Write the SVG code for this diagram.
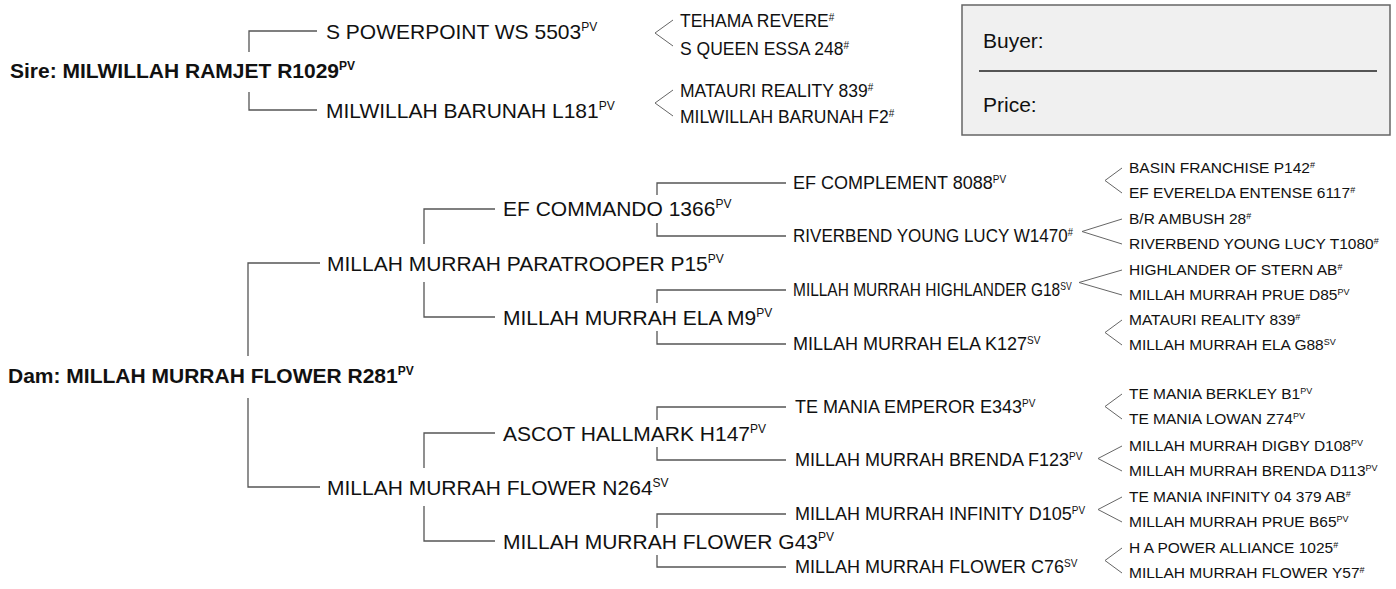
<svg xmlns="http://www.w3.org/2000/svg" width="1396" height="589" viewBox="0 0 1396 589">
<style>
text{font-family:"Liberation Sans",Arial,sans-serif;fill:#111}
.L1{font-size:21px}
.B{font-size:21px;font-weight:bold}
.L2{font-size:17.5px}
.L3{font-size:18px}
.L4{font-size:15.5px}
.s1{font-size:12px}
.s3{font-size:10px}
.s4{font-size:9px}
.br{fill:none;stroke:#555;stroke-width:1.3}
.lt{fill:none;stroke:#666;stroke-width:1}
</style>
<rect width="1396" height="589" fill="#fff"/>
<g id="connectors">
<path class="br" d="M249,52V31H317M249,92V110H317"/>
<path class="br" d="M248,356V263H320M248,398V487H320"/>
<path class="br" d="M424,244V209H495M424,282V317H495"/>
<path class="br" d="M424,468V433H495M424,506V541H495"/>
<path class="br" d="M657,195V183H786M657,223V236H786"/>
<path class="br" d="M657,303V290H786M657,331V344H786"/>
<path class="br" d="M657,420V407H786M657,447V460H786"/>
<path class="br" d="M657,528V514H786M657,555V567H786"/>
<polyline class="lt" points="673,20 655,33 673,46"/>
<polyline class="lt" points="673,90 655,103 673,116"/>
<polyline class="lt" points="1122,168 1105,180.5 1122,193"/>
<polyline class="lt" points="1122,219 1082,231.5 1122,244"/>
<polyline class="lt" points="1122,270 1079,282.5 1122,295"/>
<polyline class="lt" points="1122,320 1105,332.5 1122,345"/>
<polyline class="lt" points="1122,394 1105,406.5 1122,419"/>
<polyline class="lt" points="1122,446 1098,458.5 1122,471"/>
<polyline class="lt" points="1122,497 1098,509.5 1122,522"/>
<polyline class="lt" points="1122,548 1105,560.5 1122,573"/>
</g>
<g id="sire"><text class="B" x="10" y="78">Sire: MILWILLAH RAMJET R1029<tspan class="s1" dy="-8">PV</tspan></text></g>
<g id="s-sire"><text class="L1" x="326" y="39">S POWERPOINT WS 5503<tspan class="s1" dy="-8">PV</tspan></text></g>
<g id="s-dam"><text class="L1" x="326" y="118">MILWILLAH BARUNAH L181<tspan class="s1" dy="-8">PV</tspan></text></g>
<g id="ss1"><text class="L2" x="680" y="27">TEHAMA REVERE<tspan class="s3" dy="-6">#</tspan></text></g>
<g id="ss2"><text class="L2" x="680" y="55">S QUEEN ESSA 248<tspan class="s3" dy="-6">#</tspan></text></g>
<g id="sd1"><text class="L2" x="680" y="97">MATAURI REALITY 839<tspan class="s3" dy="-6">#</tspan></text></g>
<g id="sd2"><text class="L2" x="680" y="123">MILWILLAH BARUNAH F2<tspan class="s3" dy="-6">#</tspan></text></g>
<g id="buyer-box">
<rect x="962" y="5" width="428" height="130" fill="#f0f0f0" stroke="#666" stroke-width="1.5"/>
<line x1="979" y1="71" x2="1377" y2="71" stroke="#222" stroke-width="1.3"/>
<text class="L1" x="983" y="48">Buyer:</text>
<text class="L1" x="983" y="112">Price:</text>
</g>
<g id="dam"><text class="B" x="8" y="383">Dam: MILLAH MURRAH FLOWER R281<tspan class="s1" dy="-8">PV</tspan></text></g>
<g id="d-sire"><text class="L1" x="327" y="271">MILLAH MURRAH PARATROOPER P15<tspan class="s1" dy="-8">PV</tspan></text></g>
<g id="d-dam"><text class="L1" x="327" y="495">MILLAH MURRAH FLOWER N264<tspan class="s1" dy="-8">SV</tspan></text></g>
<g id="ds-sire"><text class="L1" x="503" y="216">EF COMMANDO 1366<tspan class="s1" dy="-8">PV</tspan></text></g>
<g id="ds-dam"><text class="L1" x="503" y="325">MILLAH MURRAH ELA M9<tspan class="s1" dy="-8">PV</tspan></text></g>
<g id="dd-sire"><text class="L1" x="503" y="441">ASCOT HALLMARK H147<tspan class="s1" dy="-8">PV</tspan></text></g>
<g id="dd-dam"><text class="L1" x="503" y="549">MILLAH MURRAH FLOWER G43<tspan class="s1" dy="-8">PV</tspan></text></g>
<g id="g3-1"><text class="L3" x="793" y="189">EF COMPLEMENT 8088<tspan class="s3" dy="-6">PV</tspan></text></g>
<g id="g3-2" transform="translate(793,242) scale(0.946,1)"><text class="L3" x="0" y="0">RIVERBEND YOUNG LUCY W1470<tspan class="s3" dy="-6">#</tspan></text></g>
<g id="g3-3" transform="translate(793,296) scale(0.86,1)"><text class="L3" x="0" y="0">MILLAH MURRAH HIGHLANDER G18<tspan class="s3" dy="-6">SV</tspan></text></g>
<g id="g3-4"><text class="L3" x="793" y="350">MILLAH MURRAH ELA K127<tspan class="s3" dy="-6">SV</tspan></text></g>
<g id="g3-5"><text class="L3" x="795" y="413">TE MANIA EMPEROR E343<tspan class="s3" dy="-6">PV</tspan></text></g>
<g id="g3-6"><text class="L3" x="795" y="466">MILLAH MURRAH BRENDA F123<tspan class="s3" dy="-6">PV</tspan></text></g>
<g id="g3-7"><text class="L3" x="795" y="520">MILLAH MURRAH INFINITY D105<tspan class="s3" dy="-6">PV</tspan></text></g>
<g id="g3-8"><text class="L3" x="795" y="573">MILLAH MURRAH FLOWER C76<tspan class="s3" dy="-6">SV</tspan></text></g>
<g id="g4-1"><text class="L4" x="1129" y="173">BASIN FRANCHISE P142<tspan class="s4" dy="-5">#</tspan></text></g>
<g id="g4-2"><text class="L4" x="1129" y="198">EF EVERELDA ENTENSE 6117<tspan class="s4" dy="-5">#</tspan></text></g>
<g id="g4-3"><text class="L4" x="1129" y="224">B/R AMBUSH 28<tspan class="s4" dy="-5">#</tspan></text></g>
<g id="g4-4"><text class="L4" x="1129" y="249">RIVERBEND YOUNG LUCY T1080<tspan class="s4" dy="-5">#</tspan></text></g>
<g id="g4-5"><text class="L4" x="1129" y="275">HIGHLANDER OF STERN AB<tspan class="s4" dy="-5">#</tspan></text></g>
<g id="g4-6"><text class="L4" x="1129" y="300">MILLAH MURRAH PRUE D85<tspan class="s4" dy="-5">PV</tspan></text></g>
<g id="g4-7"><text class="L4" x="1129" y="325">MATAURI REALITY 839<tspan class="s4" dy="-5">#</tspan></text></g>
<g id="g4-8"><text class="L4" x="1129" y="350">MILLAH MURRAH ELA G88<tspan class="s4" dy="-5">SV</tspan></text></g>
<g id="g4-9"><text class="L4" x="1129" y="399">TE MANIA BERKLEY B1<tspan class="s4" dy="-5">PV</tspan></text></g>
<g id="g4-10"><text class="L4" x="1129" y="424">TE MANIA LOWAN Z74<tspan class="s4" dy="-5">PV</tspan></text></g>
<g id="g4-11"><text class="L4" x="1129" y="451">MILLAH MURRAH DIGBY D108<tspan class="s4" dy="-5">PV</tspan></text></g>
<g id="g4-12"><text class="L4" x="1129" y="476">MILLAH MURRAH BRENDA D113<tspan class="s4" dy="-5">PV</tspan></text></g>
<g id="g4-13"><text class="L4" x="1129" y="502">TE MANIA INFINITY 04 379 AB<tspan class="s4" dy="-5">#</tspan></text></g>
<g id="g4-14"><text class="L4" x="1129" y="527">MILLAH MURRAH PRUE B65<tspan class="s4" dy="-5">PV</tspan></text></g>
<g id="g4-15"><text class="L4" x="1129" y="553">H A POWER ALLIANCE 1025<tspan class="s4" dy="-5">#</tspan></text></g>
<g id="g4-16"><text class="L4" x="1129" y="578">MILLAH MURRAH FLOWER Y57<tspan class="s4" dy="-5">#</tspan></text></g>
</svg>
